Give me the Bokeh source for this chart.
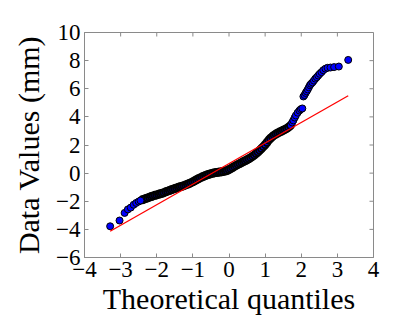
import math
from bokeh.plotting import figure
from bokeh.models import FixedTicker, ColumnDataSource
from bokeh.embed import file_html
from bokeh.resources import INLINE

# Theoretical quantiles (x) and data values (y)
tail_low_x = [-3.29, -3.03, -2.89, -2.80, -2.72, -2.64, -2.57, -2.50, -2.45]
tail_low_y = [-3.78, -3.37, -2.83, -2.58, -2.45, -2.25, -2.12, -2.02, -1.95]

dense_x = [-2.40, -2.35, -2.30, -2.25, -2.20, -2.15, -2.10, -2.05, -2.00, -1.95,
           -1.90, -1.85, -1.80, -1.75, -1.70, -1.65, -1.60, -1.55, -1.50, -1.45,
           -1.40, -1.35, -1.30, -1.25, -1.20, -1.15, -1.10, -1.05, -1.00, -0.95,
           -0.90, -0.85, -0.80, -0.75, -0.70, -0.65, -0.60, -0.55, -0.50, -0.45,
           -0.40, -0.35, -0.30, -0.25, -0.20, -0.15, -0.10, -0.05, 0.00, 0.05,
           0.10, 0.15, 0.20, 0.25, 0.30, 0.35, 0.40, 0.45, 0.50, 0.55,
           0.60, 0.65, 0.70, 0.75, 0.80, 0.85, 0.90, 0.95, 1.00, 1.05,
           1.10, 1.15, 1.20, 1.25, 1.30, 1.35, 1.40, 1.45, 1.50, 1.55,
           1.60, 1.65, 1.70]
dense_y = [-1.90, -1.85, -1.80, -1.76, -1.71, -1.66, -1.62, -1.58, -1.55, -1.51,
           -1.47, -1.43, -1.39, -1.33, -1.28, -1.24, -1.19, -1.14, -1.10, -1.05,
           -1.01, -0.97, -0.93, -0.89, -0.84, -0.79, -0.74, -0.68, -0.62, -0.55,
           -0.47, -0.40, -0.34, -0.28, -0.22, -0.17, -0.12, -0.08, -0.04, -0.01,
           0.02, 0.04, 0.06, 0.08, 0.10, 0.12, 0.15, 0.19, 0.25, 0.32,
           0.40, 0.48, 0.55, 0.62, 0.68, 0.75, 0.82, 0.88, 0.95, 1.02,
           1.10, 1.19, 1.28, 1.39, 1.50, 1.62, 1.75, 1.88, 2.02, 2.18,
           2.35, 2.48, 2.60, 2.70, 2.78, 2.85, 2.92, 2.98, 3.05, 3.11,
           3.18, 3.27, 3.38]

tail_high_x = [1.75, 1.78, 1.82, 1.85, 1.90, 1.95, 1.99, 2.03,
               2.06, 2.09, 2.12, 2.15, 2.18, 2.21, 2.24, 2.27, 2.31, 2.35,
               2.39, 2.43, 2.47, 2.51, 2.56, 2.61, 2.67, 2.73, 2.81, 2.91,
               3.04, 3.30]
tail_high_y = [3.60, 3.75, 3.95, 4.10, 4.30, 4.45, 4.55, 4.60,
               5.45, 5.55, 5.70, 5.82, 5.95, 6.10, 6.25, 6.35, 6.45, 6.58,
               6.72, 6.82, 6.94, 7.06, 7.18, 7.32, 7.43, 7.49, 7.51, 7.54,
               7.58, 8.05]

fit_x = [-3.29, 3.30]
fit_y = [-4.13, 5.50]

x_ticks = [-4, -3, -2, -1, 0, 1, 2, 3, 4]
y_ticks = [-6, -4, -2, 0, 2, 4, 6, 8, 10]
x_tick_labels = ["\u22124", "\u22123", "\u22122", "\u22121", "0", "1", "2", "3", "4"]
y_tick_labels = ["\u22126", "\u22124", "\u22122", "0", "2", "4", "6", "8", "10"]

FONT = "Liberation Serif"
GREY = "#8a8a8a"
X0, X1 = x_ticks[0], x_ticks[-1]
Y0, Y1 = y_ticks[0], y_ticks[-1]

p = figure(width=410, height=317, x_range=(X0, X1), y_range=(Y0, Y1),
           output_backend="svg", toolbar_location=None,
           min_border_left=84, min_border_right=37, min_border_top=32, min_border_bottom=60)
p.xgrid.visible = False
p.ygrid.visible = False
p.outline_line_color = GREY
p.background_fill_color = "white"
p.border_fill_color = "white"

# mirrored inward ticks on top and right edges
p.ray(x=x_ticks, y=[Y1] * len(x_ticks), length=4, length_units="screen",
      angle=-math.pi / 2, line_color=GREY, line_width=1)
p.ray(x=[X1] * len(y_ticks), y=y_ticks, length=4, length_units="screen",
      angle=math.pi, line_color=GREY, line_width=1)

src_tail = ColumnDataSource(dict(x=tail_low_x + tail_high_x, y=tail_low_y + tail_high_y))
src_dense = ColumnDataSource(dict(x=dense_x, y=dense_y))
p.scatter("x", "y", source=src_dense, size=7, fill_color="#0000ff", line_color="black", line_width=2)
p.scatter("x", "y", source=src_tail, size=7, fill_color="#0000ff", line_color="black", line_width=1)
p.line(fit_x, fit_y, line_color="red", line_width=1.3)

for ax, ticks, labels in ((p.xaxis[0], x_ticks, x_tick_labels), (p.yaxis[0], y_ticks, y_tick_labels)):
    ax.ticker = FixedTicker(ticks=ticks)
    ax.major_label_overrides = {t: l for t, l in zip(ticks, labels)}
    ax.major_tick_in = 4
    ax.major_tick_out = 0
    ax.minor_tick_line_color = None
    ax.axis_line_color = GREY
    ax.major_tick_line_color = GREY
    ax.major_label_text_font = FONT
    ax.major_label_text_font_size = "23px"
    ax.major_label_text_color = "black"
    ax.axis_label_text_font = FONT
    ax.axis_label_text_font_size = "30px"
    ax.axis_label_text_font_style = "normal"
    ax.axis_label_text_color = "black"

p.xaxis[0].axis_label = "Theoretical quantiles"
p.yaxis[0].axis_label = "Data Values (mm)"
p.xaxis[0].major_label_standoff = 4
p.yaxis[0].major_label_standoff = 4
p.xaxis[0].axis_label_standoff = 2
p.yaxis[0].axis_label_standoff = 8

open("out.html", "w").write(file_html(p, INLINE))
